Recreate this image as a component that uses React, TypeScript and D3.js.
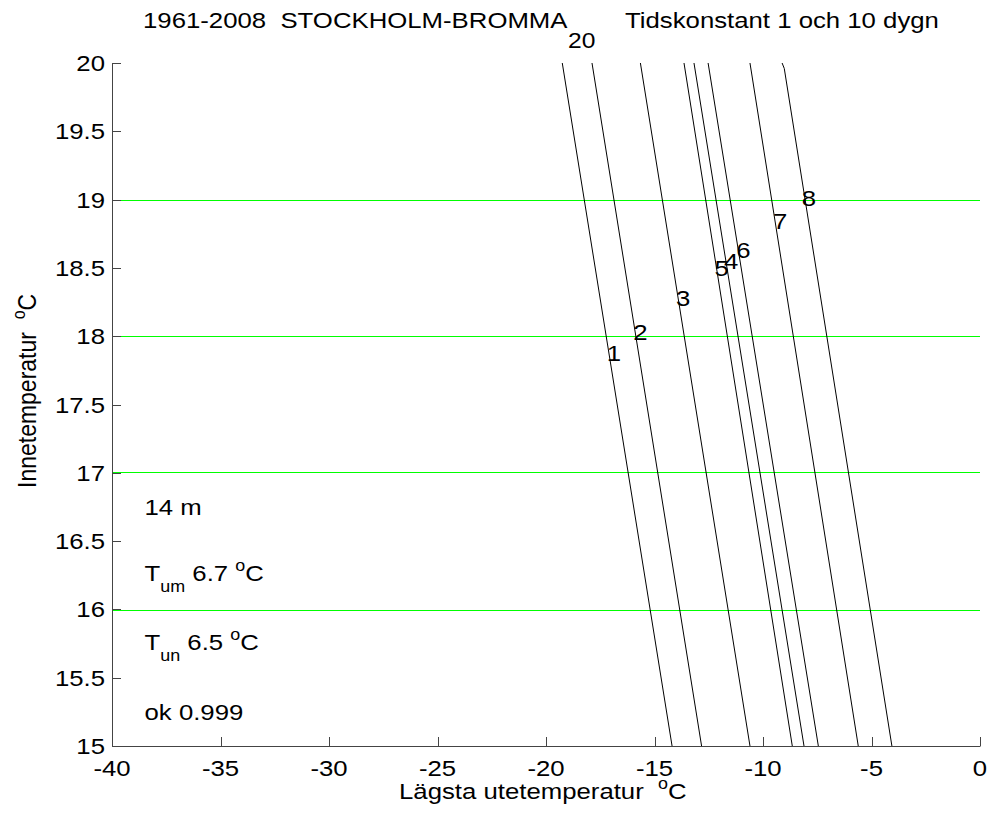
import React from "react";
import * as d3 from "d3";

// ---- data ----
const yTop = 20;
const yBottom = 15;
// x value (°C) of each curve at innetemperatur 20 and 15
const lineXAt20 = [-19.25, -17.88, -15.65, -13.64, -13.18, -12.53, -10.6, -9.12];
const lineXAt15 = [-14.19, -12.83, -10.6, -8.65, -8.11, -7.45, -5.61, -4.06];
// small bend at the top of the last curve
const lastLineBend = { y: 19.96, x: -9.02 };
const lineLabels = ["1", "2", "3", "5", "4", "6", "7", "8"];
const lineLabelY = [17.88, 18.03, 18.28, 18.5, 18.55, 18.63, 18.84, 19.01];
const greenLevels = [16, 17, 18, 19];
const xTicks = [-40, -35, -30, -25, -20, -15, -10, -5, 0];
const yTicks = [15, 15.5, 16, 16.5, 17, 17.5, 18, 18.5, 19, 19.5, 20];

const W = 991;
const H = 829;
const SX = 1.12;
const FONT = "'Liberation Sans', Arial, Helvetica, sans-serif";
const FS = 23;
const SUB = 16;

const x = d3.scaleLinear().domain([-40, 0]).range([112, 980]);
const y = d3.scaleLinear().domain([15, 20]).range([746, 63]);

function Txt(props: {
  x: number;
  y: number;
  anchor?: string;
  rot?: boolean;
  size?: number;
  children: any;
}) {
  const t = `translate(${props.x},${props.y}) scale(${SX},1)${props.rot ? " rotate(-90)" : ""}`;
  return (
    <text
      transform={t}
      textAnchor={props.anchor || "start"}
      fontFamily={FONT}
      fontSize={props.size || FS}
      fill="#000"
      style={{ whiteSpace: "pre" }}
    >
      {props.children}
    </text>
  );
}

export default function App() {
  const line = d3
    .line<{ x: number; y: number }>()
    .x((d) => x(d.x))
    .y((d) => y(d.y));

  const curves = lineXAt20.map((x20, i) => {
    const pts = [{ x: x20, y: yTop }];
    if (i === lineXAt20.length - 1) pts.push(lastLineBend);
    pts.push({ x: lineXAt15[i], y: yBottom });
    return pts;
  });

  const xOnLine = (i: number, yy: number) =>
    lineXAt20[i] + ((yTop - yy) / (yTop - yBottom)) * (lineXAt15[i] - lineXAt20[i]);

  const x0 = x(-40);
  const x1 = x(0);
  const yb = y(15);
  const yt = y(20);

  return (
    <svg width={W} height={H} style={{ display: "block", position: "absolute", left: 0, top: 0 }}>
      <rect width={W} height={H} fill="#fff" />
      {/* green reference lines */}
      {greenLevels.map((g) => (
        <rect
          key={"g" + g}
          x={x0}
          width={x1 - x0}
          y={2 * Math.round(y(g) / 2)}
          height={1}
          fill="#00ff00"
          shapeRendering="crispEdges"
        />
      ))}
      {/* curves */}
      {curves.map((pts, i) => (
        <path key={"c" + i} d={line(pts) || ""} fill="none" stroke="#000" strokeWidth={1} />
      ))}
      {/* curve labels */}
      {lineLabels.map((lab, i) => (
        <Txt key={"l" + lab} x={x(xOnLine(i, lineLabelY[i])) - 2} y={y(lineLabelY[i]) + 8}>
          {lab}
        </Txt>
      ))}
      {/* axes */}
      <line x1={x0 + 0.5} x2={x0 + 0.5} y1={yt} y2={yb + 0.5} stroke="#444" strokeWidth={1} />
      <line x1={x0} x2={x1 + 0.5} y1={yb + 0.5} y2={yb + 0.5} stroke="#444" strokeWidth={1} />
      {xTicks.map((t) => (
        <g key={"xt" + t}>
          <line
            x1={Math.round(x(t)) + 0.5}
            x2={Math.round(x(t)) + 0.5}
            y1={yb}
            y2={yb - 9}
            stroke="#444"
          />
          <Txt x={x(t)} y={776} anchor="middle">
            {String(t)}
          </Txt>
        </g>
      ))}
      {yTicks.map((t) => (
        <g key={"yt" + t}>
          <line
            x1={x0}
            x2={x0 + 9}
            y1={Math.round(y(t)) + 0.5}
            y2={Math.round(y(t)) + 0.5}
            stroke="#444"
          />
          <Txt x={105} y={y(t) + 8} anchor="end">
            {String(t)}
          </Txt>
        </g>
      ))}
      {/* title */}
      <Txt x={143} y={28}>{"1961-2008  STOCKHOLM-BROMMA"}</Txt>
      <Txt x={568} y={48} size={22}>{"20"}</Txt>
      <Txt x={625} y={28}>{"Tidskonstant 1 och 10 dygn"}</Txt>
      {/* axis labels */}
      <Txt x={399} y={799}>
        {"Lägsta utetemperatur  "}
        <tspan fontSize={SUB} dy={-10}>{"o"}</tspan>
        <tspan dy={10}>{"C"}</tspan>
      </Txt>
      <Txt x={36} y={488} rot>
        {"Innetemperatur  "}
        <tspan fontSize={SUB} dy={-10}>{"o"}</tspan>
        <tspan dy={10}>{"C"}</tspan>
      </Txt>
      {/* annotations */}
      <Txt x={x(-38.5)} y={y(16.75) + 8}>{"14 m"}</Txt>
      <Txt x={x(-38.5)} y={y(16.25) + 6}>
        {"T"}
        <tspan fontSize={SUB} dy={11}>{"um"}</tspan>
        <tspan dy={-11}>{" 6.7 "}</tspan>
        <tspan fontSize={SUB} dy={-10}>{"o"}</tspan>
        <tspan dy={10}>{"C"}</tspan>
      </Txt>
      <Txt x={x(-38.5)} y={y(15.75) + 6}>
        {"T"}
        <tspan fontSize={SUB} dy={11}>{"un"}</tspan>
        <tspan dy={-11}>{" 6.5 "}</tspan>
        <tspan fontSize={SUB} dy={-10}>{"o"}</tspan>
        <tspan dy={10}>{"C"}</tspan>
      </Txt>
      <Txt x={x(-38.5)} y={y(15.25) + 8}>{"ok 0.999"}</Txt>
    </svg>
  );
}
